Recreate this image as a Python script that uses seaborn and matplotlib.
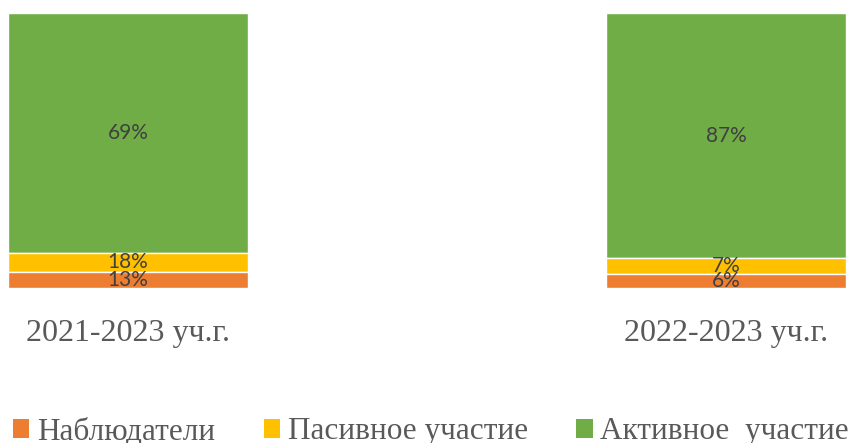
import numpy as np
import pandas as pd
import matplotlib
matplotlib.use('Agg')
import matplotlib.pyplot as plt
from matplotlib.patches import Patch
import seaborn as sns

years = ['2021-2023 уч.г.', '2022-2023 уч.г.']
series = ['Наблюдатели', 'Пасивное участие', 'Активное  участие']
colors = ['#ED7D31', '#FFC000', '#70AD47']

# shares as drawn in the picture (bar heights)
observers = [5.8, 5.1]
passive = [7.1, 5.8]
active = [87.1, 89.1]

# shares as printed in the data labels
observers_lbl = ['13%', '6%']
passive_lbl = ['18%', '7%']
active_lbl = ['69%', '87%']

df = pd.DataFrame({'year': years, 'obs': observers, 'pas': passive, 'act': active})
df['top_pas'] = df['obs'] + df['pas']
df['top_act'] = df['top_pas'] + df['act']

sns.set_style('white')

fig = plt.figure(figsize=(8.58, 4.43), dpi=100)
ax = fig.add_axes([8 / 858, 1 - 288 / 443, 838 / 858, 275 / 443])

width = 0.401
sns.barplot(data=df, x='year', y='top_act', color=colors[2], width=width, ax=ax, saturation=1)
sns.barplot(data=df, x='year', y='top_pas', color=colors[1], width=width, ax=ax, saturation=1)
sns.barplot(data=df, x='year', y='obs', color=colors[0], width=width, ax=ax, saturation=1)

# bars: containers in order green, yellow, orange
green_bars, yellow_bars, orange_bars = ax.containers
for bars, bottoms, labels in [(green_bars, df['top_pas'], active_lbl),
                              (yellow_bars, df['obs'], passive_lbl),
                              (orange_bars, [0, 0], observers_lbl)]:
    for bar, b, lab in zip(bars, bottoms, labels):
        top = bar.get_height()
        bar.set_y(b)
        bar.set_height(top - b)
        ax.text(bar.get_x() + bar.get_width() / 2, b + (top - b) / 2, lab,
                ha='center', va='center', fontsize=15, color='#404040',
                family='Lato')

ax.set_ylim(0, 100)
ax.set_xlim(-0.2005, 1.2)
sns.despine(ax=ax, left=True, bottom=True)
ax.set_yticks([])
ax.set_xlabel('')
ax.set_ylabel('')
ax.tick_params(axis='x', length=0, pad=22)
for t in ax.get_xticklabels():
    t.set_fontfamily('Liberation Serif')
    t.set_fontsize(23)
    t.set_color('#595959')

handles = [Patch(facecolor=c, edgecolor='none') for c in colors]
leg = fig.legend(handles, series, loc='center', bbox_to_anchor=(431 / 858, 1 - 432 / 443),
                 ncol=3, frameon=False, handlelength=0.52, handleheight=0.52,
                 handletextpad=0.25, columnspacing=1.55, borderpad=0, borderaxespad=0,
                 prop={'family': 'Liberation Serif', 'size': 22.5})
for t in leg.get_texts():
    t.set_color('#595959')

fig.savefig('out.png', dpi=100)
